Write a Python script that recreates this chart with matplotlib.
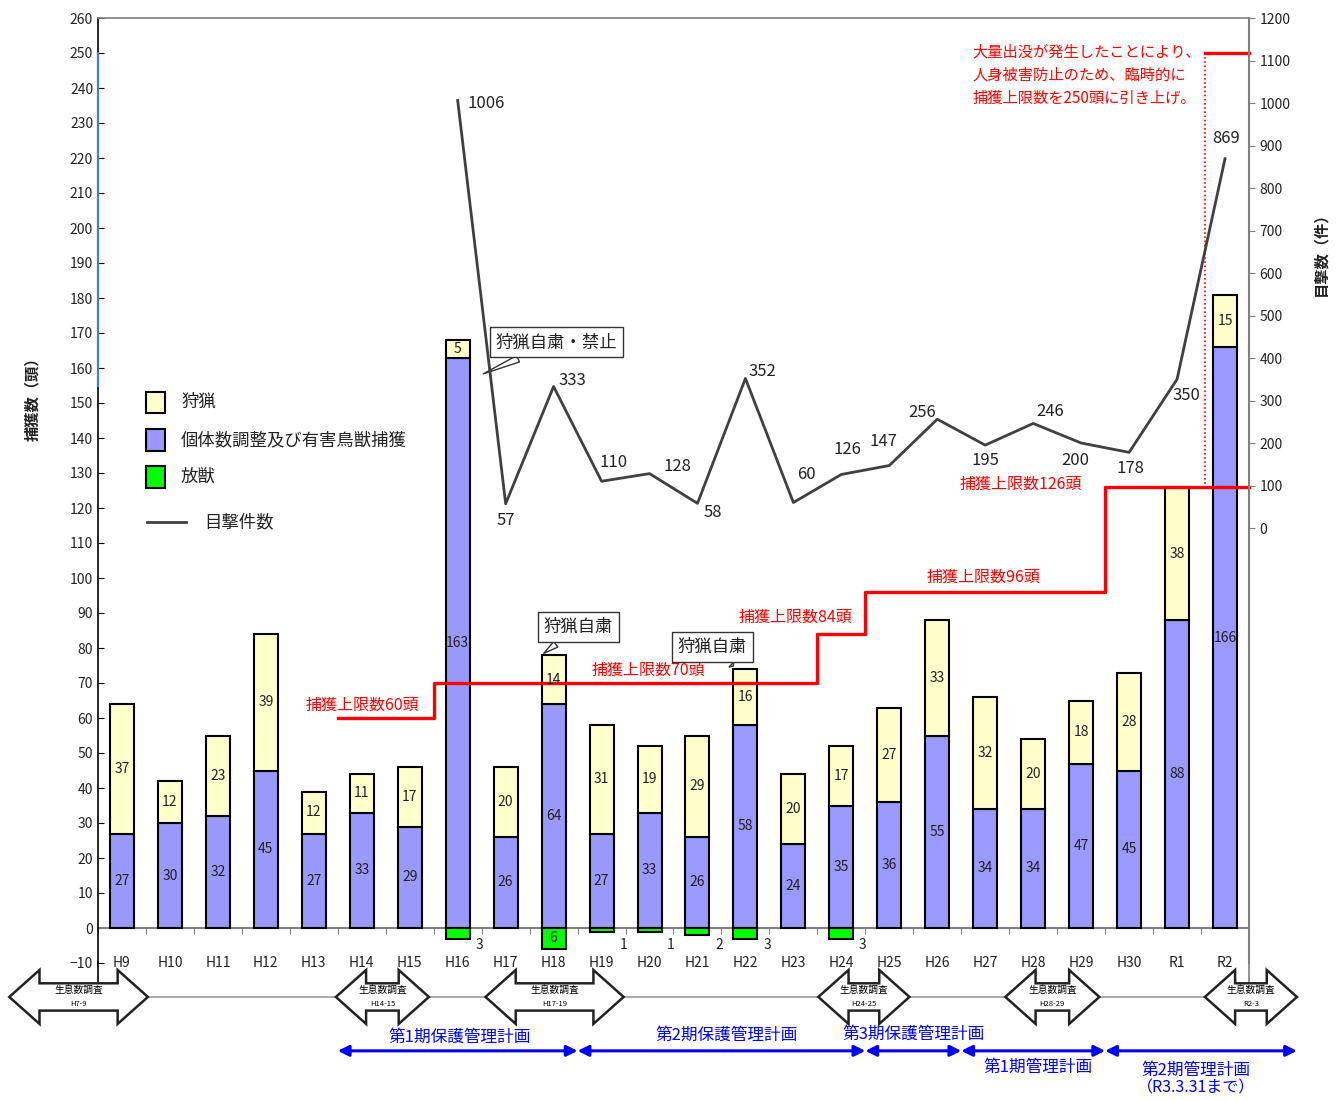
import matplotlib
matplotlib.use('Agg')
import matplotlib.pyplot as plt
from matplotlib.patches import Rectangle, Polygon
from matplotlib.lines import Line2D

plt.rcParams['font.family'] = ['Noto Sans CJK JP', 'DejaVu Sans']

# ---------------- data ----------------
years = ['H9', 'H10', 'H11', 'H12', 'H13', 'H14', 'H15', 'H16', 'H17', 'H18', 'H19', 'H20',
         'H21', 'H22', 'H23', 'H24', 'H25', 'H26', 'H27', 'H28', 'H29', 'H30', 'R1', 'R2']
hunting = [37, 12, 23, 39, 12, 11, 17, 5, 20, 14, 31, 19, 29, 16, 20, 17, 27, 33, 32, 20, 18, 28, 38, 15]
control = [27, 30, 32, 45, 27, 33, 29, 163, 26, 64, 27, 33, 26, 58, 24, 35, 36, 55, 34, 34, 47, 45, 88, 166]
released = [0, 0, 0, 0, 0, 0, 0, 3, 0, 6, 1, 1, 2, 3, 0, 3, 0, 0, 0, 0, 0, 0, 0, 0]

sight_years = ['H16', 'H17', 'H18', 'H19', 'H20', 'H21', 'H22', 'H23', 'H24', 'H25', 'H26',
               'H27', 'H28', 'H29', 'H30', 'R1', 'R2']
sightings = [1006, 57, 333, 110, 128, 58, 352, 60, 126, 147, 256, 195, 246, 200, 178, 350, 869]

limit_start = ['H14', 'H16', 'H24', 'H25', 'H30']
limit_values = [60, 70, 84, 96, 126]
temp_limit = 250

survey_labels = ['H7-9', 'H14-15', 'H17-19', 'H24-25', 'H28-29', 'R2-3']
plan_labels = ['第1期保護管理計画', '第2期保護管理計画', '第3期保護管理計画', '第1期管理計画', '第2期管理計画']
plan_start = ['H14', 'H19', 'H25', 'H27', 'H30']
plan_end = ['H18', 'H24', 'H26', 'H29', None]

# ---------------- styles / layout ----------------
C_HUNT = '#FFFFCC'
C_CTRL = '#9999FF'
C_REL = '#00FF00'
C_LINE = '#404040'
C_GRAY = '#808080'
C_TXT = '#222222'

sight_offsets = [(29, -3), (0, -17), (19, 6), (12, 19), (28, 7), (15, -9), (17, 7), (13, 28),
                 (6, 25), (-6, 24), (-15, 7), (0, -15), (17, 12), (-6, -17), (1, -16), (9, -16), (1, 20)]
survey_extent = [(-2.35, 0.54), (4.46, 6.4), (7.58, 10.46), (14.52, 16.42), (18.42, 20.38), (22.58, 24.5)]

fig = plt.figure(figsize=(13.44, 11), dpi=100)
ax = fig.add_axes([98 / 1344, 1 - 963 / 1100, (1249 - 98) / 1344, (963 - 18) / 1100])

x = list(range(len(years)))
idx = {y: i for i, y in enumerate(years)}

# bars
b1 = ax.bar(x, control, width=0.5, color=C_CTRL, edgecolor='black', linewidth=1.5, zorder=3)
b2 = ax.bar(x, hunting, width=0.5, bottom=control, color=C_HUNT, edgecolor='black', linewidth=1.5, zorder=3)
rel_x = [i for i, r in zip(x, released) if r > 0]
rel_v = [-r for r in released if r > 0]
b3 = ax.bar(rel_x, rel_v, width=0.5, color=C_REL, edgecolor='black', linewidth=1.5, zorder=3)

ax.bar_label(b1, label_type='center', fontsize=10, color=C_TXT, zorder=6)
ax.bar_label(b2, label_type='center', fontsize=10, color=C_TXT, zorder=6)
for i, r in zip(rel_x, rel_v):
    if -r >= 5:
        ax.text(i, r / 2, str(-r), ha='center', va='center', fontsize=10, color=C_TXT, zorder=6)
    else:
        ax.text(i + 0.45, -4.9, str(-r), ha='center', va='center', fontsize=10, color=C_TXT, zorder=6)

# limits
lx = [idx[s] - 0.5 for s in limit_start] + [len(years) - 0.5]
lv = limit_values + [limit_values[-1]]
ax.step(lx, lv, where='post', color='red', lw=2.4, zorder=5, clip_on=False)
tx = idx['R2'] - 0.42
ax.plot([tx, len(years) - 0.5], [temp_limit, temp_limit], color='red', lw=2.4, zorder=5, clip_on=False)
ax.plot([tx, tx], [temp_limit, limit_values[-1]], color='red', lw=1.2, ls=(0, (1, 1.5)), zorder=5)

red_pos = [(5.02, 63.7), (10.98, 73.7), (14.04, 88.9), (17.96, 100.3), (18.75, 126.9)]
for (px, py), v in zip(red_pos, limit_values):
    ax.text(px, py, f'捕獲上限数{v}頭', color='red', fontsize=11.5, ha='center', va='center', zorder=6)
ax.text(17.73, 243.7, '大量出没が発生したことにより、\n人身被害防止のため、臨時的に\n捕獲上限数を250頭に引き上げ。',
        color='red', fontsize=11, ha='left', va='center', linespacing=1.45, zorder=6)

# axes styling (left)
ax.set_xlim(-0.5, len(years) - 0.5)
ax.set_ylim(-10, 260)
ax.set_yticks(range(-10, 261, 10))
ax.tick_params(axis='y', direction='in', length=4, labelsize=10, labelcolor=C_TXT, colors='black')
ax.tick_params(axis='y', labelcolor=C_TXT)
ax.set_xticks([i + 0.5 for i in range(-1, len(years))])
ax.set_xticklabels([])
ax.tick_params(axis='x', direction='out', length=4, color=C_GRAY)
ax.spines['bottom'].set_position(('data', 0))
ax.spines['bottom'].set_color(C_GRAY)
ax.spines['bottom'].set_linewidth(1.5)
ax.spines['bottom'].set_zorder(2)
ax.spines['left'].set_color('black')
ax.spines['left'].set_linewidth(1.2)
ax.spines['top'].set_color(C_GRAY)
ax.spines['top'].set_linewidth(1.2)
ax.spines['right'].set_visible(False)
ax.plot([-0.5, -0.5], [155, 250], color='#4a7ebb', lw=1.6, zorder=7, clip_on=False)
ax.plot([-0.5, -0.5], [-10, -15.7], color='black', lw=1.2, clip_on=False)
ax.plot([len(years) - 0.5, len(years) - 0.5], [-10, -19.7], color=C_GRAY, lw=1.2, clip_on=False)

for i, y in enumerate(years):
    ax.text(i, -10, y, ha='center', va='center', fontsize=10, color=C_TXT, clip_on=False)

# right axis
ax2 = ax.twinx()
ax2.set_ylim(-1023.5, 1200)
ax2.set_yticks(range(0, 1201, 100))
ax2.tick_params(axis='y', direction='out', length=4, labelsize=10, labelcolor=C_TXT, color=C_GRAY)
for s in ['top', 'left', 'bottom']:
    ax2.spines[s].set_visible(False)
ax2.spines['right'].set_color(C_GRAY)
ax2.spines['right'].set_linewidth(1.5)
sx = [idx[s] for s in sight_years]
ax2.plot(sx, sightings, color=C_LINE, lw=2.0, zorder=4)
for xx, v, (dx, dy) in zip(sx, sightings, sight_offsets):
    ax2.annotate(str(v), (xx, v), xytext=(dx, dy), textcoords='offset pixels',
                 ha='center', va='center', fontsize=12, color=C_TXT)

# callouts
co = dict(bbox=dict(boxstyle='square,pad=0.35', fc='white', ec='#333333', lw=1),
          arrowprops=dict(arrowstyle='wedge,tail_width=0.4,shrink_factor=0.5', fc='white', ec='#333333', lw=1),
          ha='center', va='center', fontsize=12.5, color=C_TXT, zorder=8)
ax.annotate('狩猟自粛・禁止', xy=(7.48, 158), xytext=(9.06, 167.4), **co)
ax.annotate('狩猟自粛', xy=(8.75, 78), xytext=(9.52, 86.0), **co)
ax.annotate('狩猟自粛', xy=(12.79, 74.3), xytext=(12.31, 80.3), **co)

# legend (manual)
def fx(px):
    return (px - 98) / 1151
def fy(py):
    return (963 - py) / 945

leg_items = [('狩猟', C_HUNT), ('個体数調整及び有害鳥獣捕獲', C_CTRL), ('放獣', C_REL)]
for k, (lab, col) in enumerate(leg_items):
    cy = [402, 440, 477][k]
    ax.add_patch(Rectangle((fx(146), fy(cy + 10.5)), fx(165) - fx(146), fy(cy - 10.5) - fy(cy + 10.5),
                           transform=ax.transAxes, fc=col, ec='black', lw=1.5, zorder=7))
    ax.text(fx(181), fy(cy), lab, transform=ax.transAxes, fontsize=12.5, va='center', ha='left', color=C_TXT)
ax.add_line(Line2D([fx(147), fx(186)], [fy(522), fy(522)], transform=ax.transAxes, color=C_LINE, lw=2.0))
ax.text(fx(204), fy(522), '目撃件数', transform=ax.transAxes, fontsize=12.5, va='center', ha='left', color=C_TXT)

# axis titles
fig.text(32 / 1344, 1 - 395 / 1100, '捕獲数（頭）', rotation=90, ha='center', va='center', fontsize=11,
         color=C_TXT, fontweight='bold')
fig.text(1320 / 1344, 1 - 250 / 1100, '目撃数（件）', rotation=90, ha='center', va='center', fontsize=11,
         color=C_TXT, fontweight='bold')

# survey arrows
ym, hh, sh, hl = -19.7, 7.7, 3.9, 0.63
ax.plot([survey_extent[0][1], survey_extent[-1][0]], [ym, ym], color='#999999', lw=1.2, clip_on=False, zorder=1)
for (x0, x1), lab in zip(survey_extent, survey_labels):
    pts = [(x0, ym), (x0 + hl, ym + hh), (x0 + hl, ym + sh), (x1 - hl, ym + sh), (x1 - hl, ym + hh),
           (x1, ym), (x1 - hl, ym - hh), (x1 - hl, ym - sh), (x0 + hl, ym - sh), (x0 + hl, ym - hh)]
    ax.add_patch(Polygon(pts, closed=True, fc='white', ec='#222222', lw=1.8, clip_on=False, zorder=3))
    cx = (x0 + x1) / 2
    ax.text(cx, ym + 2.0, '生息数調査', ha='center', va='center', fontsize=7, color='black', clip_on=False, zorder=4)
    ax.text(cx, ym - 1.9, lab, ha='center', va='center', fontsize=5.5, color='black', clip_on=False, zorder=4)

# plan arrows
py_line = -35.1
for k, lab in enumerate(plan_labels):
    x0 = idx[plan_start[k]] - 0.5
    x1 = (idx[plan_end[k]] + 0.5) if plan_end[k] else 24.5
    ax.annotate('', xy=(x1, py_line), xytext=(x0, py_line),
                arrowprops=dict(arrowstyle='<|-|>', color='#0000FF', lw=2.2, mutation_scale=16,
                                shrinkA=0, shrinkB=0), annotation_clip=False)
text_pos = [(7.04, -31.1), (12.6, -30.6), (16.5, -30.3), (19.1, -39.7), (22.4, -40.6)]
for (tx_, ty_), lab in zip(text_pos, plan_labels):
    ax.text(tx_, ty_, lab, ha='center', va='center', fontsize=12, color='#0000FF', clip_on=False)
ax.text(22.4, -45.7, '（R3.3.31まで）', ha='center', va='center', fontsize=11.5, color='#0000FF', clip_on=False)

fig.savefig('out.png', dpi=100)
